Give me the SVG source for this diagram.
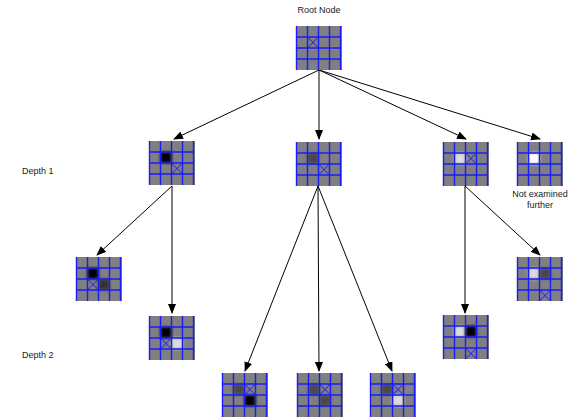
<svg xmlns="http://www.w3.org/2000/svg" xmlns:xlink="http://www.w3.org/1999/xlink" width="579" height="420" viewBox="0 0 579 420">
<style>
text{font-family:"Liberation Sans",Arial,sans-serif;font-size:9px;fill:#222}
.bg{fill:#808080}
.gl{stroke:#1a1aff;stroke-width:1.4;fill:none}
.xm{stroke:#1a1aff;stroke-width:1;fill:none}
.conn line{stroke:#000;stroke-width:1;marker-end:url(#ah)}
.blk{fill:#000;filter:url(#bl)}
.dk{fill:#333;filter:url(#bl)}
.md{fill:#484848;filter:url(#bl)}
.lt{fill:#dcdcdc;filter:url(#bl)}
.wh{fill:#fff;filter:url(#bl)}
</style>
<defs>
<filter id="bl" x="-1" y="-1" width="3" height="3"><feGaussianBlur stdDeviation="1.8"/></filter>
<marker id="ah" markerWidth="10" markerHeight="8" refX="9" refY="4" orient="auto" markerUnits="userSpaceOnUse">
<path d="M0,0 L10,4 L0,8 Z" fill="#000"/>
</marker>
<g id="grid">
<path class="gl" d="M0.5,0 V44 M11.5,0 V44 M22.5,0 V44 M33.5,0 V44 M44.5,0 V44 M0,11 H45 M0,22 H45 M0,33 H45"/>
</g>
<path id="xx" class="xm" d="M0,0 L11,11 M11,0 L0,11"/>
</defs>
<rect width="579" height="420" fill="#fff"/>
<text x="319" y="13" text-anchor="middle">Root Node</text>
<text x="22" y="174">Depth 1</text>
<text x="22" y="358">Depth 2</text>
<text x="540" y="197" text-anchor="middle">Not examined</text>
<text x="540" y="208" text-anchor="middle">further</text>

<g class="conn">
<line x1="319" y1="70" x2="174" y2="139"/>
<line x1="319" y1="70" x2="319" y2="139"/>
<line x1="319" y1="70" x2="466" y2="139"/>
<line x1="319" y1="70" x2="540" y2="139"/>
<line x1="172" y1="186" x2="97" y2="255"/>
<line x1="172" y1="186" x2="172" y2="313"/>
<line x1="318" y1="186" x2="245" y2="371"/>
<line x1="318" y1="186" x2="319" y2="371"/>
<line x1="318" y1="186" x2="392" y2="371"/>
<line x1="465" y1="186" x2="465" y2="313"/>
<line x1="465" y1="186" x2="540" y2="255"/>
</g>

<g id="root" transform="translate(296,26)">
<rect class="bg" width="46" height="44"/>
<use xlink:href="#grid"/>
<use xlink:href="#xx" x="11.5" y="11"/>
</g>

<g id="d1a" transform="translate(149,141)">
<rect class="bg" width="46" height="44"/>
<rect class="blk" x="11.5" y="11" width="11" height="11"/>
<use xlink:href="#grid"/>
<use xlink:href="#xx" x="22.5" y="22"/>
</g>
<g id="d1b" transform="translate(296,142)">
<rect class="bg" width="46" height="44"/>
<rect class="md" x="11.5" y="11" width="11" height="11"/>
<use xlink:href="#grid"/>
<use xlink:href="#xx" x="22.5" y="22"/>
</g>
<g id="d1c" transform="translate(443,142)">
<rect class="bg" width="46" height="44"/>
<rect class="lt" x="11.5" y="11" width="11" height="11"/>
<use xlink:href="#grid"/>
<use xlink:href="#xx" x="22.5" y="11"/>
</g>
<g id="d1d" transform="translate(517,142)">
<rect class="bg" width="46" height="44"/>
<rect class="wh" x="11.5" y="11" width="11" height="11"/>
<use xlink:href="#grid"/>
</g>

<g id="d2a" transform="translate(76,257)">
<rect class="bg" width="46" height="44"/>
<rect class="blk" x="11.5" y="11" width="11" height="11"/>
<rect class="dk" x="22.5" y="22" width="11" height="11"/>
<use xlink:href="#grid"/>
<use xlink:href="#xx" x="11.5" y="22"/>
</g>
<g id="d2b" transform="translate(149,316)">
<rect class="bg" width="46" height="44"/>
<rect class="blk" x="11.5" y="11" width="11" height="11"/>
<rect class="lt" x="22.5" y="22" width="11" height="11"/>
<use xlink:href="#grid"/>
<use xlink:href="#xx" x="11.5" y="22"/>
</g>
<g id="d2c" transform="translate(222,373)">
<rect class="bg" width="46" height="44"/>
<rect class="md" x="11.5" y="11" width="11" height="11"/>
<rect class="blk" x="22.5" y="22" width="11" height="11"/>
<use xlink:href="#grid"/>
<use xlink:href="#xx" x="22.5" y="11"/>
</g>
<g id="d2d" transform="translate(297,373)">
<rect class="bg" width="46" height="44"/>
<rect class="md" x="11.5" y="11" width="11" height="11"/>
<rect class="md" x="22.5" y="22" width="11" height="11"/>
<use xlink:href="#grid"/>
<use xlink:href="#xx" x="22.5" y="11"/>
</g>
<g id="d2e" transform="translate(370,373)">
<rect class="bg" width="46" height="44"/>
<rect class="md" x="11.5" y="11" width="11" height="11"/>
<rect class="lt" x="22.5" y="22" width="11" height="11"/>
<use xlink:href="#grid"/>
<use xlink:href="#xx" x="22.5" y="11"/>
</g>
<g id="d2f" transform="translate(443,315)">
<rect class="bg" width="46" height="44"/>
<rect class="lt" x="11.5" y="11" width="11" height="11"/>
<rect class="blk" x="22.5" y="11" width="11" height="11"/>
<use xlink:href="#grid"/>
<use xlink:href="#xx" x="22.5" y="33"/>
</g>
<g id="d2g" transform="translate(517,257)">
<rect class="bg" width="46" height="44"/>
<rect class="lt" x="11.5" y="11" width="11" height="11"/>
<rect class="md" x="22.5" y="11" width="11" height="11"/>
<use xlink:href="#grid"/>
<use xlink:href="#xx" x="22.5" y="33"/>
</g>
</svg>
